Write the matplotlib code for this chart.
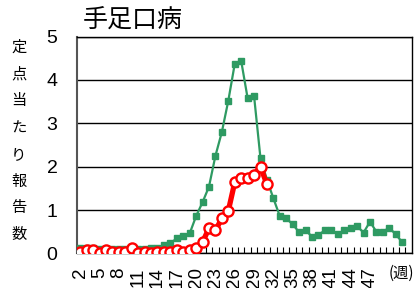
import numpy as np
import matplotlib
matplotlib.use('Agg')
import matplotlib.pyplot as plt
from matplotlib.ticker import FixedLocator

plt.rcParams['font.family'] = ['Liberation Sans', 'Noto Sans CJK JP']

# categories on the x axis (weeks), 52 slots, data for the first 51
weeks = list(range(2, 54))
tick_weeks = list(range(2, 48, 3))

# this year (green)
green = [0.12, 0.12, 0.12, 0.10, 0.10, 0.10, 0.10, 0.10, 0.10, 0.10,
         0.10, 0.13, 0.12, 0.20, 0.23, 0.35, 0.41, 0.46, 0.86, 1.18,
         1.54, 2.25, 2.80, 3.52, 4.37, 4.44, 3.58, 3.63, 2.19, 1.70,
         1.27, 0.86, 0.81, 0.67, 0.49, 0.53, 0.39, 0.43, 0.53, 0.53,
         0.44, 0.53, 0.58, 0.63, 0.48, 0.73, 0.50, 0.50, 0.59, 0.44,
         0.26]
# comparison year (red)
red = [0.04, 0.08, 0.08, 0.00, 0.08, 0.04, 0.04, 0.04, 0.12, 0.00,
       0.04, 0.00, 0.04, 0.04, 0.04, 0.08, 0.04, 0.08, 0.12, 0.26,
       0.58, 0.53, 0.81, 0.98, 1.64, 1.73, 1.73, 1.82, 2.00, 1.59]

title = '手足口病'
ylabel = '定点当たり報告数'
xunit = '(週)'

fig = plt.figure(figsize=(4.16, 2.88), dpi=100)
ax = fig.add_axes([0.185, 0.120, 0.805, 0.753])

x = np.arange(1, len(weeks) + 1)
ax.plot(x[:len(green)], green, color='#2e9a62', lw=1.6, marker='s',
        markersize=4.5, zorder=3)
ax.plot(x[:len(red)], red, color='#ff0000', lw=3.8, marker='o',
        markersize=7.3, markerfacecolor='white', markeredgecolor='#ff0000',
        markeredgewidth=1.7, zorder=4)

ax.set_xlim(0.5, len(weeks) + 0.5)
ax.set_ylim(0, 5)
ax.set_yticks(range(0, 6))
ax.grid(axis='y', color='black', lw=1.0)
ax.set_axisbelow(True)

tick_pos = [weeks.index(w) + 1 for w in tick_weeks]
ax.set_xticks(tick_pos)
ax.set_xticklabels([str(w) for w in tick_weeks], rotation=90,
                   fontsize=13.5, va='top')
ax.xaxis.set_minor_locator(FixedLocator(np.arange(1.5, len(weeks), 1)))
ax.tick_params(axis='x', which='major', length=0, pad=10)
ax.tick_params(axis='x', which='minor', direction='in', length=4,
               width=0.8, color='black')
ax.tick_params(axis='y', length=0, pad=14, labelsize=14)

for s in ax.spines.values():
    s.set_color('black')
    s.set_linewidth(1.0)
ax.spines['left'].set_color('#555555')
ax.spines['left'].set_linewidth(1.5)

fig.text(0.200, 0.885, title, fontsize=18, family='Noto Sans CJK JP',
         ha='left', va='bottom')
fig.text(0.045, 0.51, '\n'.join(ylabel), fontsize=11,
         family='Noto Sans CJK JP', ha='center', va='center',
         linespacing=1.75)
fig.text(0.965, 0.05, xunit, fontsize=11, family='Noto Sans CJK JP',
         ha='center', va='center')

fig.savefig('out.png', dpi=100)
